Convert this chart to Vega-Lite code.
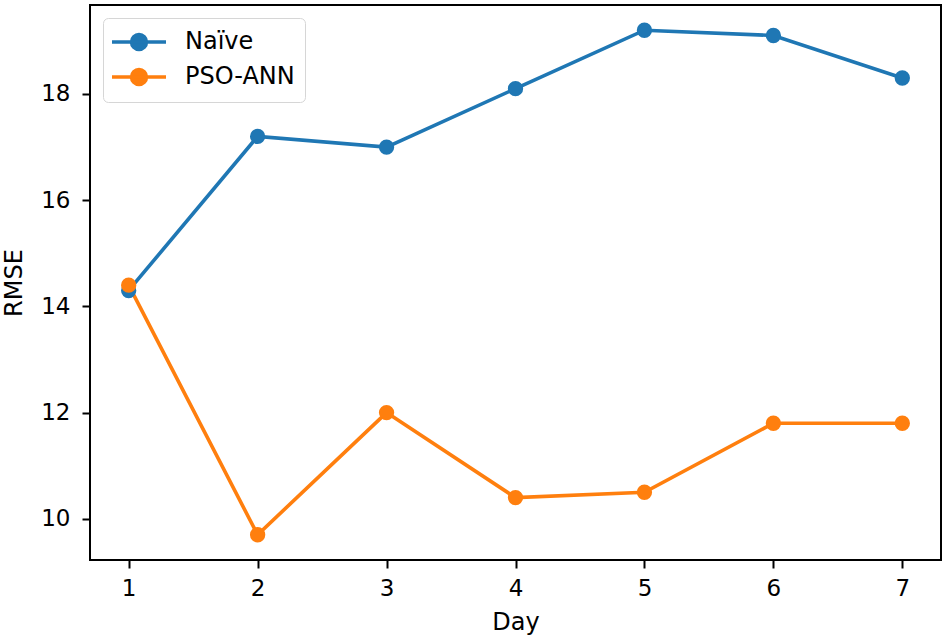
{
  "$schema": "https://vega.github.io/schema/vega-lite/v6.json",
  "width": 851,
  "height": 555,
  "autosize": {"type": "none"},
  "padding": {"left": 90, "top": 5, "right": 9, "bottom": 83},
  "background": "white",
  "config": {
    "view": {"stroke": "black", "strokeWidth": 2},
    "font": "DejaVu Sans",
    "axis": {
      "grid": false,
      "domain": false,
      "tickColor": "black",
      "tickWidth": 2,
      "tickSize": 8,
      "labelFont": "DejaVu Sans",
      "labelFontSize": 23,
      "labelColor": "black",
      "titleFont": "DejaVu Sans",
      "titleFontSize": 24,
      "titleFontWeight": "normal",
      "titleColor": "black"
    }
  },
  "data": {
    "values": [
      {"Day": 1, "RMSE": 14.3, "Model": "Naïve"},
      {"Day": 2, "RMSE": 17.2, "Model": "Naïve"},
      {"Day": 3, "RMSE": 17.0, "Model": "Naïve"},
      {"Day": 4, "RMSE": 18.1, "Model": "Naïve"},
      {"Day": 5, "RMSE": 19.2, "Model": "Naïve"},
      {"Day": 6, "RMSE": 19.1, "Model": "Naïve"},
      {"Day": 7, "RMSE": 18.3, "Model": "Naïve"},
      {"Day": 1, "RMSE": 14.4, "Model": "PSO-ANN"},
      {"Day": 2, "RMSE": 9.7, "Model": "PSO-ANN"},
      {"Day": 3, "RMSE": 12.0, "Model": "PSO-ANN"},
      {"Day": 4, "RMSE": 10.4, "Model": "PSO-ANN"},
      {"Day": 5, "RMSE": 10.5, "Model": "PSO-ANN"},
      {"Day": 6, "RMSE": 11.8, "Model": "PSO-ANN"},
      {"Day": 7, "RMSE": 11.8, "Model": "PSO-ANN"}
    ]
  },
  "encoding": {
    "x": {
      "field": "Day",
      "type": "quantitative",
      "scale": {"domain": [0.7, 7.3], "nice": false, "zero": false},
      "axis": {"values": [1, 2, 3, 4, 5, 6, 7], "format": "d", "labelPadding": 9, "titlePadding": 10, "labelFlush": false}
    },
    "y": {
      "field": "RMSE",
      "type": "quantitative",
      "scale": {"domain": [9.225, 19.675], "nice": false, "zero": false},
      "axis": {"values": [10, 12, 14, 16, 18], "labelPadding": 12, "titlePadding": 14, "labelFlush": false}
    },
    "color": {
      "field": "Model",
      "type": "nominal",
      "scale": {"domain": ["Naïve", "PSO-ANN"], "range": ["#1f77b4", "#ff7f0e"]},
      "legend": {
        "title": null,
        "orient": "none",
        "legendX": 13,
        "legendY": 13,
        "padding": 10,
        "strokeColor": "#d6d6d6",
        "fillColor": "white",
        "cornerRadius": 5,
        "labelFont": "DejaVu Sans",
        "labelFontSize": 24,
        "labelColor": "black",
        "labelOffset": 44,
        "rowPadding": 5,
        "symbolSize": 576,
        "symbolType": "M-1.25,0L3.25,0M0.38,0A0.62,0.62,0,1,1,1.62,0A0.62,0.62,0,1,1,0.38,0Z",
        "symbolStrokeWidth": 3.6,
        "symbolOpacity": 1,
        "encode": {
          "symbols": {
            "update": {
              "fill": {"scale": "color", "field": "value"},
              "stroke": {"scale": "color", "field": "value"},
              "strokeWidth": {"value": 3.6},
              "opacity": {"value": 1}
            }
          }
        }
      }
    }
  },
  "layer": [
    {"mark": {"type": "line", "strokeWidth": 3.6}},
    {"mark": {"type": "point", "filled": true, "size": 235, "opacity": 1, "shape": "circle"}}
  ]
}
